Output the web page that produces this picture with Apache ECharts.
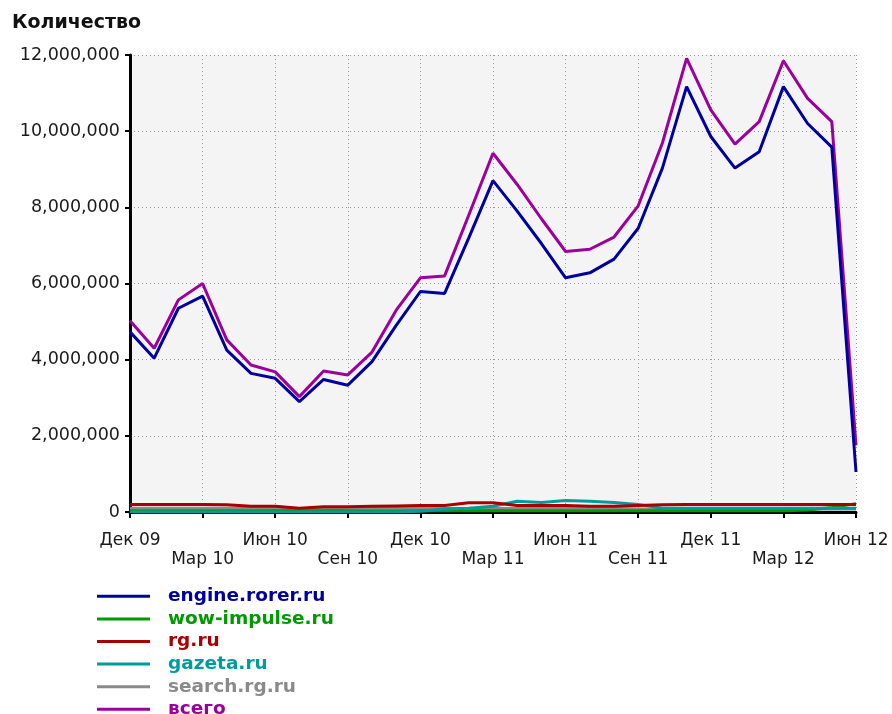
<!DOCTYPE html>
<html>
<head>
<meta charset="utf-8">
<script src="https://cdn.jsdelivr.net/npm/echarts@6/dist/echarts.min.js"></script>
<style>
html,body{margin:0;padding:0;background:#fff;}
#c{width:892px;height:714px;}
</style>
</head>
<body>
<div id="c"></div>
<script>
const months = ['Дек 09','Янв 10','Фев 10','Мар 10','Апр 10','Май 10','Июн 10','Июл 10','Авг 10','Сен 10','Окт 10','Ноя 10',
  'Дек 10','Янв 11','Фев 11','Мар 11','Апр 11','Май 11','Июн 11','Июл 11','Авг 11','Сен 11','Окт 11','Ноя 11',
  'Дек 11','Янв 12','Фев 12','Мар 12','Апр 12','Май 12','Июн 12'];

const engine = [4730000,4040000,5350000,5670000,4250000,3640000,3510000,2900000,3480000,3330000,3950000,4900000,
  5790000,5740000,7200000,8700000,7900000,7050000,6150000,6280000,6640000,7450000,9030000,11170000,
  9860000,9030000,9460000,11170000,10200000,9580000,1050000];
const wowImpulse = [30000,30000,30000,30000,30000,30000,30000,30000,30000,30000,30000,30000,
  30000,30000,30000,30000,30000,30000,30000,30000,30000,30000,30000,30000,
  30000,30000,30000,30000,50000,120000,220000];
const rgRu = [200000,200000,200000,200000,190000,150000,150000,100000,140000,140000,150000,160000,
  170000,170000,240000,240000,170000,170000,170000,150000,150000,170000,190000,200000,
  200000,200000,200000,200000,200000,200000,200000];
const gazeta = [0,0,0,0,0,0,0,0,0,0,0,0,
  20000,80000,100000,150000,280000,250000,300000,280000,250000,200000,100000,100000,
  100000,100000,100000,100000,100000,100000,100000];
const searchRg = [100000,100000,100000,100000,100000,100000,90000,80000,80000,100000,110000,110000,
  100000,90000,90000,90000,90000,90000,100000,100000,90000,80000,80000,80000,
  80000,80000,80000,80000,80000,80000,80000];
const total = [5020000,4300000,5570000,6000000,4520000,3860000,3680000,3030000,3700000,3600000,4200000,5300000,
  6150000,6200000,7800000,9420000,8600000,7700000,6840000,6900000,7220000,8040000,9690000,11910000,
  10560000,9660000,10250000,11850000,10860000,10250000,1750000];

const yTicks = [0,2000000,4000000,6000000,8000000,10000000,12000000];

const colors = {
  engine:'#00009c', wow:'#009a00', rg:'#a80000', gazeta:'#009c9c', search:'#8a8a8a', total:'#9c009c'
};

const chart = echarts.init(document.getElementById('c'), null, {renderer:'canvas'});
const fmt = v => String(v).replace(/\B(?=(\d{3})+(?!\d))/g, ',');

function line(name, data, color, z){
  return {name, type:'line', data, symbol:'none', z,
    lineStyle:{color, width:3}, itemStyle:{color}, animation:false};
}

const legendText = {fontFamily:'DejaVu Sans', fontWeight:'bold', fontSize:18.5, lineHeight:22.6, padding:[0,0,0,13]};
function legendItem(name, color){
  return {name, textStyle:Object.assign({}, legendText, {color})};
}

chart.setOption({
  animation:false,
  backgroundColor:'#ffffff',
  title:{text:'Количество', left:7, top:9,
    textStyle:{fontFamily:'DejaVu Sans', fontWeight:'bold', fontSize:19, color:'#111'}},
  grid:{left:130, right:36, top:55, bottom:202, show:true, backgroundColor:'#f4f4f4', borderWidth:0},
  legend:[{
    orient:'vertical', left:92, top:580, icon:'rect', itemWidth:53, itemHeight:3, itemGap:0,
    textStyle:legendText, selectedMode:false,
    data:[
      legendItem('engine.rorer.ru', colors.engine),
      legendItem('wow-impulse.ru', colors.wow),
      legendItem('rg.ru', colors.rg),
      legendItem('gazeta.ru', colors.gazeta),
      legendItem('search.rg.ru', colors.search)
    ]
  },{
    orient:'vertical', left:92, top:693, icon:'rect', itemWidth:53, itemHeight:3, itemGap:0,
    textStyle:legendText, selectedMode:false,
    data:[legendItem('всего', colors.total)]
  }],
  xAxis:{
    type:'category', data:months, boundaryGap:false,
    axisLine:{lineStyle:{color:'#000', width:3}},
    axisTick:{interval:2, length:6, lineStyle:{color:'#000', width:2}},
    axisLabel:{interval:2, margin:19, fontFamily:'DejaVu Sans', fontSize:17, color:'#1a1a1a', lineHeight:19,
      formatter:(v,i)=> (Math.floor(i/3)%2===1 ? '\n'+v : v)},
    splitLine:{show:true, interval:2, lineStyle:{color:'#999', type:[1,3], width:1}}
  },
  yAxis:{
    type:'value', min:0, max:12000000, interval:2000000,
    axisLine:{show:true, lineStyle:{color:'#000', width:3}},
    axisTick:{show:true, length:5, lineStyle:{color:'#000', width:2}},
    axisLabel:{margin:10, fontFamily:'DejaVu Sans', fontSize:17.5, color:'#1a1a1a',
      formatter:v=> yTicks.includes(v) ? fmt(v) : ''},
    splitLine:{show:true, lineStyle:{color:'#999', type:[1,3], width:1}}
  },
  series:[
    line('search.rg.ru', searchRg, colors.search, 2),
    line('wow-impulse.ru', wowImpulse, colors.wow, 3),
    line('gazeta.ru', gazeta, colors.gazeta, 4),
    line('rg.ru', rgRu, colors.rg, 5),
    line('всего', total, colors.total, 6),
    line('engine.rorer.ru', engine, colors.engine, 7)
  ]
});
</script>
</body>
</html>
